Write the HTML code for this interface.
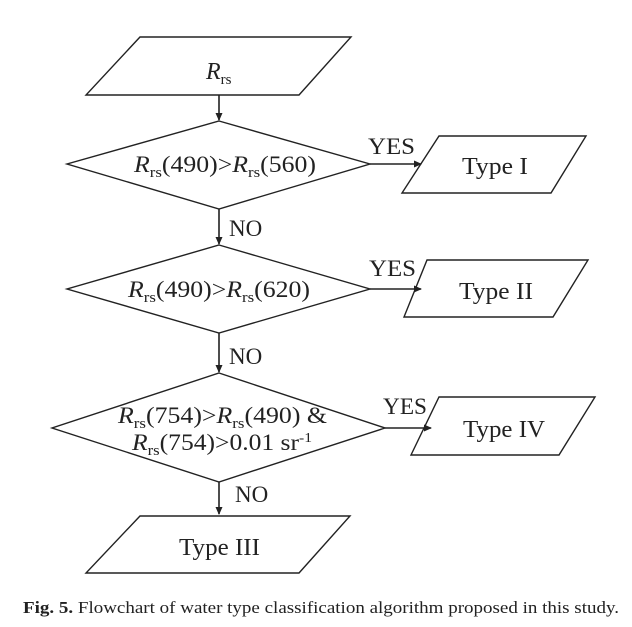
<!DOCTYPE html>
<html><head><meta charset="utf-8"><style>
html,body{margin:0;padding:0;background:#fff}
svg{display:block}
text{font-family:"Liberation Serif",serif;fill:#222}
</style></head><body>
<svg width="632" height="627" viewBox="0 0 632 627" xmlns="http://www.w3.org/2000/svg">
<defs><marker id="a" markerWidth="8" markerHeight="8" refX="7" refY="4" orient="auto" markerUnits="userSpaceOnUse"><path d="M0,0.5 L8,4 L0,7.5 z" fill="#222"/></marker></defs>
<g fill="none" stroke="#222" stroke-width="1.4">
<polygon points="140,37 351,37 299,95 86,95"/>
<polygon points="219,121 370,164 219,209 67,164"/>
<polygon points="219,245 370,289 219,333 67,289"/>
<polygon points="219,373 385,428 219,482 52,428"/>
<polygon points="439,136 586,136 551,193 402,193"/>
<polygon points="427,260 588,260 553,317 404,317"/>
<polygon points="439,397 595,397 559,455 411,455"/>
<polygon points="140,516 350,516 299,573 86,573"/>
</g>
<g stroke="#222" stroke-width="1.6" marker-end="url(#a)">
<line x1="219" y1="95" x2="219" y2="120"/>
<line x1="219" y1="209" x2="219" y2="244"/>
<line x1="219" y1="333" x2="219" y2="372"/>
<line x1="219" y1="482" x2="219" y2="514"/>
<line x1="370" y1="164" x2="421" y2="164"/>
<line x1="370" y1="289" x2="421" y2="289"/>
<line x1="385" y1="428" x2="431" y2="428"/>
</g>
<g font-size="23">
<text x="206" y="79" font-size="24"><tspan font-style="italic">R</tspan><tspan font-size="15" dy="5">rs</tspan></text>
<text x="134" y="172" textLength="182" lengthAdjust="spacingAndGlyphs"><tspan font-style="italic">R</tspan><tspan font-size="15" dy="5">rs</tspan><tspan dy="-5">(490)&gt;</tspan><tspan font-style="italic">R</tspan><tspan font-size="15" dy="5">rs</tspan><tspan dy="-5">(560)</tspan></text>
<text x="128" y="297" textLength="182" lengthAdjust="spacingAndGlyphs"><tspan font-style="italic">R</tspan><tspan font-size="15" dy="5">rs</tspan><tspan dy="-5">(490)&gt;</tspan><tspan font-style="italic">R</tspan><tspan font-size="15" dy="5">rs</tspan><tspan dy="-5">(620)</tspan></text>
<text x="118" y="423" textLength="209" lengthAdjust="spacingAndGlyphs"><tspan font-style="italic">R</tspan><tspan font-size="15" dy="5">rs</tspan><tspan dy="-5">(754)&gt;</tspan><tspan font-style="italic">R</tspan><tspan font-size="15" dy="5">rs</tspan><tspan dy="-5">(490) &amp;</tspan></text>
<text x="132" y="450" textLength="180" lengthAdjust="spacingAndGlyphs"><tspan font-style="italic">R</tspan><tspan font-size="15" dy="5">rs</tspan><tspan dy="-5">(754)&gt;0.01 sr</tspan><tspan font-size="14" dy="-8">-1</tspan></text>
<text x="368" y="154" textLength="47" lengthAdjust="spacingAndGlyphs">YES</text>
<text x="369" y="276" textLength="47" lengthAdjust="spacingAndGlyphs">YES</text>
<text x="383" y="414" textLength="44" lengthAdjust="spacingAndGlyphs">YES</text>
<text x="229" y="236">NO</text>
<text x="229" y="364">NO</text>
<text x="235" y="502">NO</text>
<text x="462" y="174" font-size="24" textLength="66" lengthAdjust="spacingAndGlyphs">Type I</text>
<text x="459" y="299" font-size="24" textLength="74" lengthAdjust="spacingAndGlyphs">Type II</text>
<text x="463" y="437" font-size="24" textLength="82" lengthAdjust="spacingAndGlyphs">Type IV</text>
<text x="179" y="555" font-size="24" textLength="81" lengthAdjust="spacingAndGlyphs">Type III</text>
</g>
<text x="23" y="613" font-size="17" textLength="596" lengthAdjust="spacingAndGlyphs"><tspan font-weight="bold">Fig. 5.</tspan>  Flowchart of water type classification algorithm proposed in this study.</text>
</svg>
</body></html>
